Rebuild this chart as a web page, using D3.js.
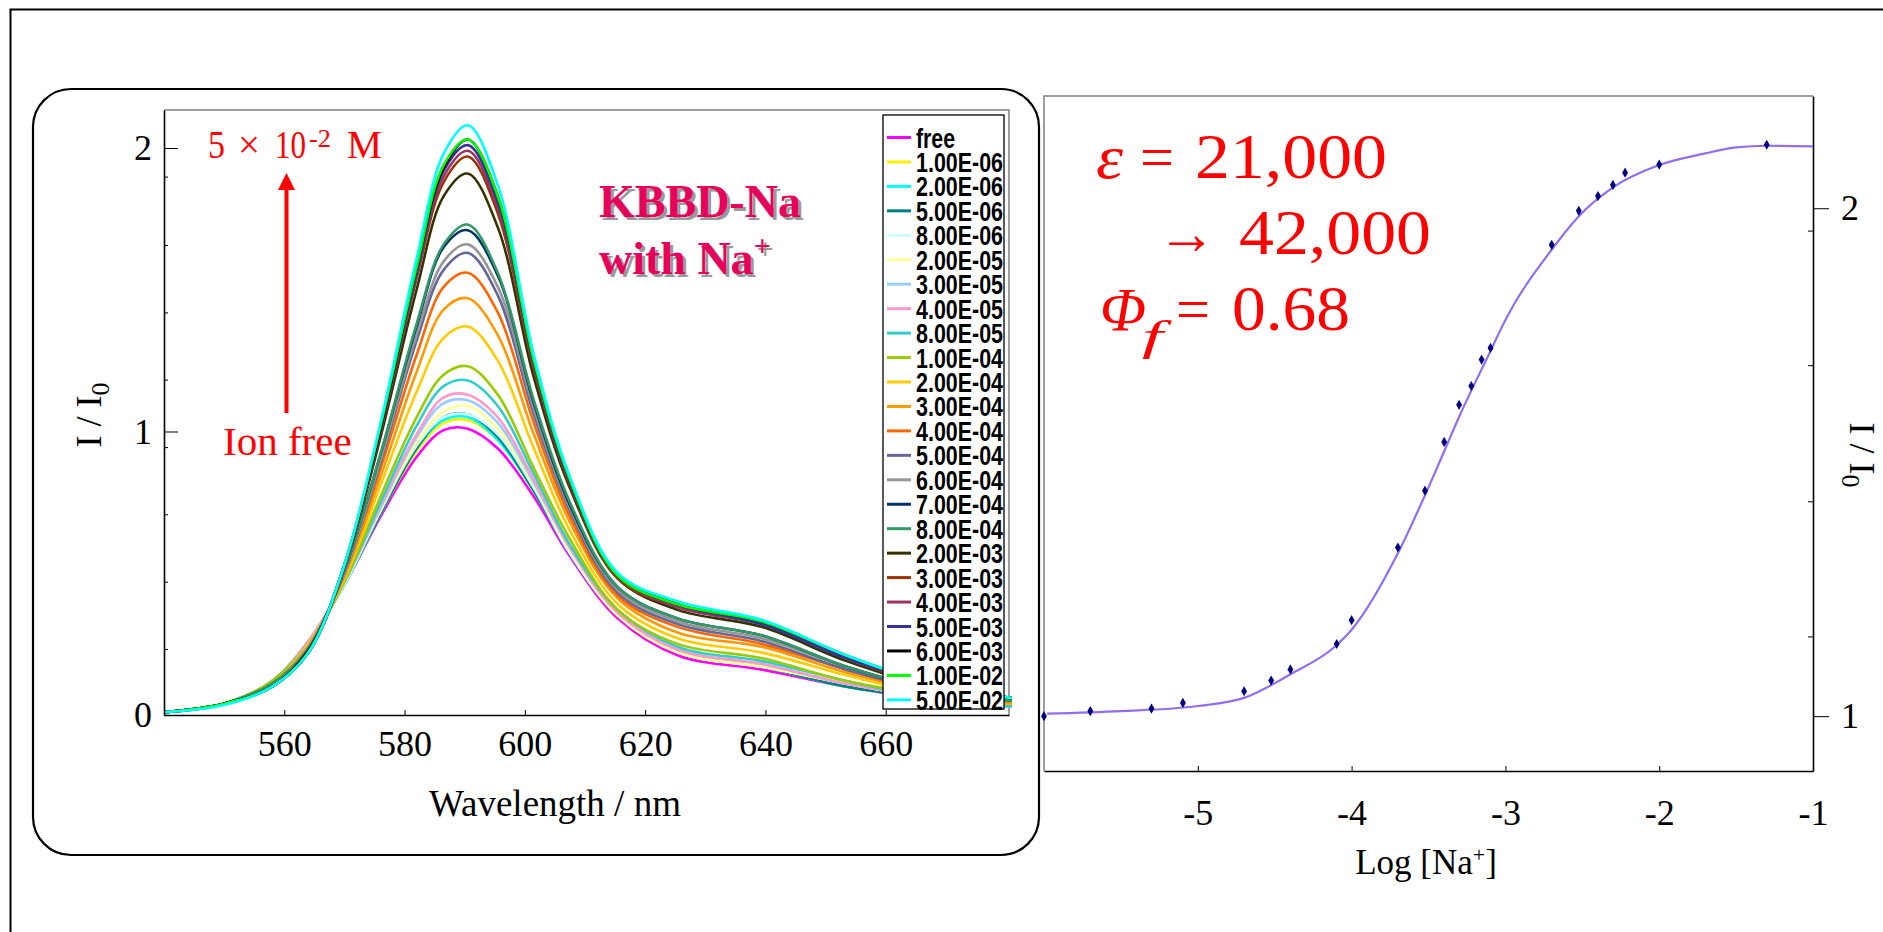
<!DOCTYPE html>
<html>
<head>
<meta charset="utf-8">
<script src="https://cdn.jsdelivr.net/npm/d3@7"></script>
<style>
  body { margin: 0; background: #fff; }
  svg { display: block; }
  .serif { font-family: "Liberation Serif", "Times New Roman", serif; }
</style>
</head>
<body>
<div id="chart"></div>
<script>
// ---- data ----
var wavelengths = [540, 550, 558, 564, 570, 576, 582, 586.5, 590.5, 595.5, 601.5, 607.5, 615.5, 625.5, 639.5, 653.5, 667.5, 681];

var concLabels = ["free", "1.00E-06", "2.00E-06", "5.00E-06", "8.00E-06", "2.00E-05", "3.00E-05",
  "4.00E-05", "8.00E-05", "1.00E-04", "2.00E-04", "3.00E-04", "4.00E-04", "5.00E-04", "6.00E-04",
  "7.00E-04", "8.00E-04", "2.00E-03", "3.00E-03", "4.00E-03", "5.00E-03", "6.00E-03", "1.00E-02", "5.00E-02"];

var concValues = [null, 1e-6, 2e-6, 5e-6, 8e-6, 2e-5, 3e-5, 4e-5, 8e-5, 1e-4, 2e-4, 3e-4, 4e-4,
  5e-4, 6e-4, 7e-4, 8e-4, 2e-3, 3e-3, 4e-3, 5e-3, 6e-3, 1e-2, 5e-2];

var lineColors = ["#ff00ff", "#ffee00", "#00ffff", "#008080", "#ccffff", "#ffff99", "#99ccff",
  "#ff99cc", "#33cccc", "#99cc00", "#ffcc00", "#ff9900", "#ff6600", "#666699", "#969696",
  "#003366", "#339966", "#333300", "#993300", "#993366", "#333399", "#000000", "#00ff00", "#00ffff"];

// I / I0 at each wavelength, one row per concentration
var spectra = [
  [0.01, 0.04, 0.12, 0.26, 0.46, 0.70, 0.91, 1.005, 1.01, 0.94, 0.77, 0.56, 0.34, 0.21, 0.16, 0.10, 0.055, 0.03],
  [0.01, 0.04, 0.12, 0.26, 0.46, 0.71, 0.93, 1.03, 1.04, 0.97, 0.79, 0.57, 0.35, 0.22, 0.17, 0.10, 0.06, 0.03],
  [0.01, 0.04, 0.12, 0.26, 0.46, 0.71, 0.94, 1.04, 1.05, 0.97, 0.79, 0.57, 0.35, 0.22, 0.17, 0.10, 0.06, 0.03],
  [0.01, 0.04, 0.12, 0.26, 0.46, 0.71, 0.94, 1.05, 1.06, 0.98, 0.79, 0.57, 0.35, 0.22, 0.17, 0.10, 0.06, 0.03],
  [0.01, 0.04, 0.12, 0.26, 0.46, 0.72, 0.95, 1.05, 1.06, 0.99, 0.80, 0.57, 0.35, 0.22, 0.17, 0.11, 0.06, 0.03],
  [0.01, 0.04, 0.12, 0.26, 0.47, 0.72, 0.96, 1.07, 1.09, 1.01, 0.81, 0.58, 0.35, 0.22, 0.17, 0.11, 0.06, 0.03],
  [0.01, 0.04, 0.12, 0.26, 0.47, 0.73, 0.98, 1.10, 1.11, 1.03, 0.82, 0.59, 0.36, 0.23, 0.18, 0.11, 0.06, 0.03],
  [0.01, 0.04, 0.12, 0.26, 0.47, 0.74, 0.99, 1.12, 1.13, 1.05, 0.83, 0.59, 0.36, 0.23, 0.18, 0.11, 0.06, 0.03],
  [0.01, 0.04, 0.12, 0.25, 0.47, 0.75, 1.02, 1.16, 1.18, 1.09, 0.85, 0.60, 0.37, 0.24, 0.19, 0.12, 0.06, 0.03],
  [0.01, 0.04, 0.12, 0.25, 0.47, 0.77, 1.05, 1.20, 1.23, 1.13, 0.87, 0.62, 0.37, 0.25, 0.20, 0.12, 0.07, 0.04],
  [0.01, 0.04, 0.11, 0.25, 0.48, 0.81, 1.14, 1.33, 1.37, 1.25, 0.94, 0.65, 0.39, 0.27, 0.22, 0.14, 0.07, 0.04],
  [0.01, 0.04, 0.11, 0.24, 0.49, 0.84, 1.21, 1.43, 1.47, 1.34, 0.99, 0.68, 0.41, 0.29, 0.24, 0.15, 0.08, 0.04],
  [0.01, 0.04, 0.11, 0.24, 0.50, 0.87, 1.27, 1.51, 1.56, 1.42, 1.03, 0.70, 0.42, 0.31, 0.25, 0.16, 0.08, 0.05],
  [0.01, 0.04, 0.11, 0.24, 0.50, 0.89, 1.32, 1.57, 1.63, 1.48, 1.06, 0.72, 0.43, 0.32, 0.26, 0.16, 0.09, 0.05],
  [0.01, 0.04, 0.11, 0.24, 0.50, 0.90, 1.34, 1.60, 1.66, 1.51, 1.08, 0.73, 0.44, 0.33, 0.27, 0.17, 0.09, 0.05],
  [0.01, 0.04, 0.11, 0.23, 0.51, 0.92, 1.37, 1.65, 1.71, 1.55, 1.10, 0.74, 0.45, 0.34, 0.28, 0.17, 0.09, 0.05],
  [0.01, 0.04, 0.11, 0.23, 0.51, 0.92, 1.38, 1.66, 1.73, 1.56, 1.11, 0.75, 0.45, 0.34, 0.28, 0.17, 0.09, 0.05],
  [0.01, 0.04, 0.10, 0.23, 0.52, 0.98, 1.50, 1.83, 1.91, 1.72, 1.19, 0.80, 0.48, 0.37, 0.31, 0.19, 0.10, 0.06],
  [0.01, 0.04, 0.10, 0.22, 0.52, 1.00, 1.54, 1.88, 1.97, 1.77, 1.22, 0.81, 0.48, 0.38, 0.32, 0.20, 0.10, 0.06],
  [0.01, 0.04, 0.10, 0.22, 0.52, 1.00, 1.55, 1.90, 1.99, 1.79, 1.23, 0.82, 0.49, 0.38, 0.32, 0.20, 0.11, 0.06],
  [0.01, 0.04, 0.10, 0.22, 0.53, 1.01, 1.56, 1.92, 2.01, 1.81, 1.24, 0.82, 0.49, 0.39, 0.32, 0.20, 0.11, 0.06],
  [0.01, 0.04, 0.10, 0.22, 0.53, 1.01, 1.58, 1.93, 2.03, 1.83, 1.25, 0.83, 0.49, 0.39, 0.33, 0.21, 0.11, 0.06],
  [0.01, 0.04, 0.10, 0.22, 0.53, 1.02, 1.58, 1.94, 2.03, 1.83, 1.25, 0.83, 0.49, 0.39, 0.33, 0.21, 0.11, 0.06],
  [0.01, 0.035, 0.10, 0.22, 0.53, 1.03, 1.61, 1.98, 2.08, 1.87, 1.27, 0.84, 0.50, 0.40, 0.335, 0.21, 0.11, 0.06]
];

// titration points (one per added concentration, free excluded)
var titrationRatio = [1.000, 1.010, 1.015, 1.026, 1.049, 1.070, 1.092, 1.142, 1.189, 1.332, 1.444,
  1.540, 1.613, 1.650, 1.702, 1.725, 1.928, 1.995, 2.024, 2.046, 2.070, 2.086, 2.125];

// fitted curve
var fitLogConc = [-5.98, -5.5, -5.0, -4.7, -4.4, -4.1, -4.0, -3.7, -3.53, -3.4, -3.3, -3.1, -3.0,
  -2.7, -2.53, -2.3, -2.0, -1.7, -1.5, -1.3, -1.0];
var fitRatio = [1.005, 1.010, 1.020, 1.036, 1.082, 1.139, 1.170, 1.320, 1.430, 1.520, 1.590, 1.717,
  1.780, 1.918, 1.982, 2.041, 2.085, 2.108, 2.120, 2.123, 2.122];

var wavelengthTicks = [560, 580, 600, 620, 640, 660];
var spectrumTicks = [0, 1, 2];
var spectrumMinorTicks = [0.233, 0.47, 0.708, 0.945, 1.183, 1.42, 1.658, 1.899];
var logTicks = [-5, -4, -3, -2, -1];
var titrationTicks = [1, 2];
var titrationMinorTicks = [1.157, 1.423, 1.691, 1.956];

// ---- drawing ----
var W = 1883, H = 932;
var svg = d3.select("#chart").append("svg")
  .attr("width", W)
  .attr("height", H);

// slide frame (top and left edges)
svg.append("path")
  .attr("d", "M10.5," + H + "V9.5H" + W)
  .attr("fill", "none")
  .attr("stroke", "#000")
  .attr("stroke-width", 2);

// rounded box round the spectra
svg.append("rect")
  .attr("x", 33).attr("y", 89)
  .attr("width", 1006).attr("height", 766)
  .attr("rx", 38).attr("ry", 38)
  .attr("fill", "none")
  .attr("stroke", "#000")
  .attr("stroke-width", 2.2);

// ===== left: emission spectra =====
var sp = { left: 164, right: 1009, top: 110, bottom: 715 };
var xSp = d3.scaleLinear().domain([540, 680.5]).range([sp.left, sp.right]);
var ySp = d3.scaleLinear().domain([0, 2.134]).range([sp.bottom, sp.top]);

svg.append("defs").append("clipPath").attr("id", "spClip")
  .append("rect")
  .attr("x", sp.left).attr("y", sp.top - 5)
  .attr("width", sp.right - sp.left + 3).attr("height", sp.bottom - sp.top + 5);

// top / right frame in grey
svg.append("path")
  .attr("d", "M" + sp.left + "," + sp.top + "H" + sp.right + "V" + sp.bottom)
  .attr("fill", "none").attr("stroke", "#808080").attr("stroke-width", 1.5);

var spLine = d3.line()
  .x(function(d) { return xSp(d[0]); })
  .y(function(d) { return ySp(d[1]); })
  .curve(d3.curveCatmullRom.alpha(0.5));

var curves = svg.append("g").attr("clip-path", "url(#spClip)");
spectra.forEach(function(row, i) {
  var pts = row.map(function(v, j) { return [wavelengths[j], v]; });
  curves.append("path")
    .attr("d", spLine(pts))
    .attr("fill", "none")
    .attr("stroke", lineColors[i])
    .attr("stroke-width", 2.6);
});

// axes
var xAxisSp = svg.append("g")
  .attr("transform", "translate(0," + sp.bottom + ")")
  .call(d3.axisBottom(xSp).tickValues(wavelengthTicks).tickSizeInner(-5).tickSizeOuter(0).tickPadding(15));
var yAxisSp = svg.append("g")
  .attr("transform", "translate(" + sp.left + ",0)")
  .call(d3.axisLeft(ySp).tickValues(spectrumTicks).tickSizeInner(-14).tickSizeOuter(0).tickPadding(12)
    .tickFormat(d3.format("d")));
svg.append("g")
  .attr("transform", "translate(" + sp.left + ",0)")
  .call(d3.axisLeft(ySp).tickValues(spectrumMinorTicks).tickSize(-4).tickFormat(""))
  .select(".domain").remove();

[xAxisSp, yAxisSp].forEach(function(a) {
  a.select(".domain").attr("stroke", "#000").attr("stroke-width", 1.6);
  a.selectAll("text").attr("class", "serif").style("font-size", "36px").attr("fill", "#000");
});

svg.append("text")
  .attr("class", "serif")
  .attr("x", 555).attr("y", 816)
  .attr("text-anchor", "middle")
  .style("font-size", "37px")
  .text("Wavelength / nm");

var yTitleL = svg.append("text")
  .attr("class", "serif")
  .attr("transform", "translate(101,415) rotate(-90)")
  .attr("text-anchor", "middle")
  .style("font-size", "36px");
yTitleL.append("tspan").text("I / I");
yTitleL.append("tspan").attr("dy", 8).style("font-size", "26px").text("0");

// legend
var leg = svg.append("g");
leg.append("rect")
  .attr("x", 883).attr("y", 115)
  .attr("width", 121).attr("height", 594)
  .attr("fill", "#fff").attr("stroke", "#000").attr("stroke-width", 1.3);
concLabels.forEach(function(lbl, i) {
  var cy = 137.5 + i * 24.45;
  leg.append("line")
    .attr("x1", 887).attr("x2", 911)
    .attr("y1", cy).attr("y2", cy)
    .attr("stroke", lineColors[i]).attr("stroke-width", 3);
  leg.append("text")
    .attr("x", 916).attr("y", cy + 10)
    .attr("textLength", i === 0 ? 39 : 87)
    .attr("lengthAdjust", "spacingAndGlyphs")
    .style("font-family", "'Liberation Sans Narrow', 'Liberation Sans', Arial, sans-serif")
    .style("font-weight", "bold")
    .style("font-size", "28px")
    .text(lbl);
});

// annotations: [text, x, baseline, size, width]
var red = "#ff0000";
var ann = svg.append("g").attr("class", "serif").attr("fill", red);
[["5", 208, 158, 40, 17], ["\u00d7", 238, 158, 40, 22], ["10", 275, 158, 40, 31],
 ["-2", 309, 147, 25, 22], ["M", 347, 158, 40, 35]].forEach(function(p) {
  ann.append("text")
    .attr("x", p[1]).attr("y", p[2])
    .attr("textLength", p[4]).attr("lengthAdjust", "spacingAndGlyphs")
    .style("font-size", p[3] + "px")
    .text(p[0]);
});
ann.append("text").attr("x", 223).attr("y", 455).style("font-size", "41px").text("Ion free");

svg.append("line")
  .attr("x1", 286.5).attr("x2", 286.5)
  .attr("y1", 413).attr("y2", 186)
  .attr("stroke", red).attr("stroke-width", 4);
svg.append("path")
  .attr("d", "M278,190L295,190L286.5,173Z")
  .attr("fill", red);

// compound name with its grey shadow
var nameG = svg.append("g").attr("class", "serif")
  .style("font-size", "46px").style("font-weight", "bold");
[["#9a9a9a", 3], ["#e6005c", 0]].forEach(function(s) {
  nameG.append("text").attr("x", 599 + s[1]).attr("y", 217 + s[1])
    .attr("fill", s[0]).text("KBBD-Na");
  var t = nameG.append("text").attr("x", 599 + s[1]).attr("y", 274 + s[1]).attr("fill", s[0]);
  t.append("tspan").text("with Na");
  t.append("tspan").attr("dy", -18).style("font-size", "30px").text("+");
});

// ===== right: titration curve =====
var ti = { left: 1044, right: 1813, top: 96, bottom: 771 };
var xTi = d3.scaleLinear().domain([-6, -1]).range([ti.left, ti.right]);
var yTi = d3.scaleLinear().domain([0.892, 2.221]).range([ti.bottom, ti.top]);

svg.append("path")
  .attr("d", "M" + ti.left + "," + ti.bottom + "V" + ti.top + "H" + ti.right)
  .attr("fill", "none").attr("stroke", "#808080").attr("stroke-width", 1.5);

var xAxisTi = svg.append("g")
  .attr("transform", "translate(0," + ti.bottom + ")")
  .call(d3.axisBottom(xTi).tickValues(logTicks).tickSizeInner(-5).tickSizeOuter(0).tickPadding(28)
    .tickFormat(function(d) { return String(d); }));
var yAxisTi = svg.append("g")
  .attr("transform", "translate(" + ti.right + ",0)")
  .call(d3.axisRight(yTi).tickValues(titrationTicks).tickSizeInner(16).tickSizeOuter(0).tickPadding(12)
    .tickFormat(d3.format("d")));
svg.append("g")
  .attr("transform", "translate(" + ti.right + ",0)")
  .call(d3.axisRight(yTi).tickValues(titrationMinorTicks).tickSize(-5).tickFormat(""))
  .select(".domain").remove();

[xAxisTi, yAxisTi].forEach(function(a) {
  a.select(".domain").attr("stroke", "#000").attr("stroke-width", 1.6);
  a.selectAll("text").attr("class", "serif").style("font-size", "36px").attr("fill", "#000");
});

var fitLine = d3.line()
  .x(function(d) { return xTi(d[0]); })
  .y(function(d) { return yTi(d[1]); })
  .curve(d3.curveMonotoneX);
svg.append("path")
  .attr("d", fitLine(fitLogConc.map(function(x, i) { return [x, fitRatio[i]]; })))
  .attr("fill", "none")
  .attr("stroke", "#8f6ff0")
  .attr("stroke-width", 2.2);

var diamond = d3.symbol().type(d3.symbolDiamond).size(30);
svg.append("g").selectAll("path")
  .data(titrationRatio)
  .join("path")
  .attr("d", diamond)
  .attr("transform", function(d, i) {
    return "translate(" + xTi(Math.log10(concValues[i + 1])) + "," + yTi(d) + ")";
  })
  .attr("fill", "#000080");

var xTitleR = svg.append("text")
  .attr("class", "serif")
  .attr("x", 1426).attr("y", 874)
  .attr("text-anchor", "middle")
  .style("font-size", "35px");
xTitleR.append("tspan").text("Log [Na");
xTitleR.append("tspan").attr("dy", -12).style("font-size", "22px").text("+");
xTitleR.append("tspan").attr("dy", 12).text("]");

var yTitleR = svg.append("text")
  .attr("class", "serif")
  .attr("transform", "translate(1850,455) rotate(90)")
  .attr("text-anchor", "middle")
  .style("font-size", "36px");
yTitleR.append("tspan").text("I / I");
yTitleR.append("tspan").attr("dy", 8).style("font-size", "26px").text("0");

// red values: [text, x, baseline, size, width, italic]
var valueParts = [
  ["\u03b5", 1096, 178, 62, 27, true], ["=", 1140, 178, 62, 34, false], ["21,000", 1195, 178, 64, 192, false],
  ["\u2192", 1157, 254, 62, 59, false], ["42,000", 1239, 254, 64, 192, false],
  ["\u03a6", 1100, 330, 62, 46, true], ["f", 1142, 350, 42, 21, true], ["=", 1176, 330, 62, 34, false],
  ["0.68", 1232, 330, 64, 118, false]
];
var val = svg.append("g").attr("class", "serif").attr("fill", red);
valueParts.forEach(function(p) {
  val.append("text")
    .attr("x", p[1]).attr("y", p[2])
    .attr("textLength", p[4]).attr("lengthAdjust", "spacingAndGlyphs")
    .style("font-size", p[3] + "px")
    .style("font-style", p[5] ? "italic" : "normal")
    .text(p[0]);
});
</script>
</body>
</html>
